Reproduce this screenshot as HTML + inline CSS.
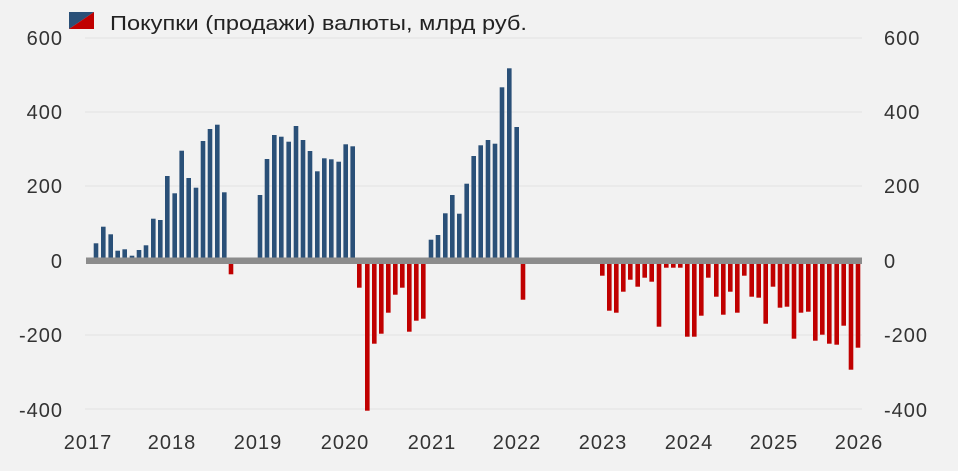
<!DOCTYPE html>
<html><head><meta charset="utf-8"><style>
html,body{margin:0;padding:0;background:#f2f2f2;}
svg{display:block;font-family:"Liberation Sans",sans-serif;}
</style></head><body>
<svg width="958" height="471" viewBox="0 0 958 471" xmlns="http://www.w3.org/2000/svg">
<rect width="958" height="471" fill="#f2f2f2"/>
<g stroke="#e2e2e2" stroke-width="1">
<line x1="85" x2="862" y1="38" y2="38"/>
<line x1="85" x2="862" y1="112" y2="112"/>
<line x1="85" x2="862" y1="186" y2="186"/>
<line x1="85" x2="862" y1="335" y2="335"/>
<line x1="85" x2="862" y1="409" y2="409"/>
</g>
<g font-size="20" fill="#333" letter-spacing="1">
<g text-anchor="end">
<text x="63" y="45">600</text><text x="63" y="119">400</text><text x="63" y="193">200</text>
<text x="63" y="268">0</text><text x="63" y="342">-200</text><text x="63" y="417">-400</text>
</g>
<g>
<text x="884" y="45">600</text><text x="884" y="119">400</text><text x="884" y="193">200</text>
<text x="884" y="268">0</text><text x="884" y="342">-200</text><text x="884" y="417">-400</text>
</g>
<g text-anchor="middle">
<text x="88" y="449">2017</text><text x="172" y="449">2018</text><text x="258" y="449">2019</text>
<text x="345" y="449">2020</text><text x="432" y="449">2021</text><text x="517" y="449">2022</text>
<text x="603" y="449">2023</text><text x="689" y="449">2024</text><text x="774" y="449">2025</text>
<text x="859" y="449">2026</text>
</g>
</g>
<text x="110" y="30" font-size="20" fill="#222" textLength="417" lengthAdjust="spacingAndGlyphs">Покупки (продажи) валюты, млрд руб.</text>
<polygon points="69,12 94,12 69,29" fill="#2a5078"/>
<polygon points="94,12 94,29 69,29" fill="#c00000"/>
<g fill="#2a5078">
<rect x="93.7" y="243.3" width="4.6" height="16.7"/>
<rect x="101" y="226.7" width="4.6" height="33.3"/>
<rect x="108.4" y="234.3" width="4.6" height="25.7"/>
<rect x="115.4" y="250.7" width="4.6" height="9.3"/>
<rect x="122.4" y="249.3" width="4.6" height="10.7"/>
<rect x="129.7" y="255.7" width="4.6" height="4.3"/>
<rect x="136.7" y="250" width="4.6" height="10"/>
<rect x="143.7" y="245.3" width="4.6" height="14.7"/>
<rect x="151" y="218.7" width="4.6" height="41.3"/>
<rect x="158" y="220" width="4.6" height="40"/>
<rect x="165" y="176" width="4.6" height="84"/>
<rect x="172.4" y="193.3" width="4.6" height="66.7"/>
<rect x="179.4" y="150.7" width="4.6" height="109.3"/>
<rect x="186.4" y="178" width="4.6" height="82"/>
<rect x="193.7" y="187.7" width="4.6" height="72.3"/>
<rect x="200.7" y="141" width="4.6" height="119"/>
<rect x="207.7" y="129" width="4.6" height="131"/>
<rect x="215" y="124.7" width="4.6" height="135.3"/>
<rect x="222" y="192.3" width="4.6" height="67.7"/>
<rect x="257.7" y="195" width="4.6" height="65"/>
<rect x="264.7" y="159" width="4.6" height="101"/>
<rect x="272" y="135" width="4.6" height="125"/>
<rect x="279" y="136.7" width="4.6" height="123.3"/>
<rect x="286.4" y="141.7" width="4.6" height="118.3"/>
<rect x="293.7" y="126" width="4.6" height="134"/>
<rect x="300.7" y="140" width="4.6" height="120"/>
<rect x="307.7" y="151" width="4.6" height="109"/>
<rect x="315" y="171.3" width="4.6" height="88.7"/>
<rect x="322" y="158.3" width="4.6" height="101.7"/>
<rect x="329" y="159.3" width="4.6" height="100.7"/>
<rect x="336.4" y="161.7" width="4.6" height="98.3"/>
<rect x="343.4" y="144.3" width="4.6" height="115.7"/>
<rect x="350.4" y="146.3" width="4.6" height="113.7"/>
<rect x="428.7" y="239.7" width="4.6" height="20.3"/>
<rect x="435.7" y="235" width="4.6" height="25"/>
<rect x="443" y="213.3" width="4.6" height="46.7"/>
<rect x="450" y="195" width="4.6" height="65"/>
<rect x="457" y="213.7" width="4.6" height="46.3"/>
<rect x="464.4" y="183.7" width="4.6" height="76.3"/>
<rect x="471.4" y="156" width="4.6" height="104"/>
<rect x="478.4" y="145.3" width="4.6" height="114.7"/>
<rect x="485.7" y="140" width="4.6" height="120"/>
<rect x="492.7" y="143.7" width="4.6" height="116.3"/>
<rect x="499.7" y="87.3" width="4.6" height="172.7"/>
<rect x="507" y="68.3" width="4.6" height="191.7"/>
<rect x="514.4" y="127" width="4.6" height="133"/>
</g>
<g fill="#c00000">
<rect x="228.7" y="262" width="4.6" height="12.3"/>
<rect x="357" y="262" width="4.6" height="25.7"/>
<rect x="365" y="262" width="4.6" height="148.7"/>
<rect x="372" y="262" width="4.6" height="81.7"/>
<rect x="379" y="262" width="4.6" height="71.7"/>
<rect x="386" y="262" width="4.6" height="50.7"/>
<rect x="393" y="262" width="4.6" height="32.7"/>
<rect x="400" y="262" width="4.6" height="25.7"/>
<rect x="407" y="262" width="4.6" height="69.7"/>
<rect x="414" y="262" width="4.6" height="58.7"/>
<rect x="421" y="262" width="4.6" height="56.7"/>
<rect x="520.7" y="262" width="4.6" height="37.7"/>
<rect x="600" y="262" width="4.6" height="13.7"/>
<rect x="607" y="262" width="4.6" height="48.7"/>
<rect x="614" y="262" width="4.6" height="50.7"/>
<rect x="621" y="262" width="4.6" height="29.7"/>
<rect x="628" y="262" width="4.6" height="17.7"/>
<rect x="635.4" y="262" width="4.6" height="24.7"/>
<rect x="642.4" y="262" width="4.6" height="15.7"/>
<rect x="649.4" y="262" width="4.6" height="19.7"/>
<rect x="656.7" y="262" width="4.6" height="64.7"/>
<rect x="664" y="262" width="4.6" height="5.7"/>
<rect x="671" y="262" width="4.6" height="5.7"/>
<rect x="678" y="262" width="4.6" height="5.7"/>
<rect x="685" y="262" width="4.6" height="74.7"/>
<rect x="692" y="262" width="4.6" height="74.7"/>
<rect x="699" y="262" width="4.6" height="53.7"/>
<rect x="706" y="262" width="4.6" height="15.7"/>
<rect x="714" y="262" width="4.6" height="34.7"/>
<rect x="721" y="262" width="4.6" height="52.7"/>
<rect x="728" y="262" width="4.6" height="29.7"/>
<rect x="735" y="262" width="4.6" height="50.7"/>
<rect x="742" y="262" width="4.6" height="13.7"/>
<rect x="749.4" y="262" width="4.6" height="34.7"/>
<rect x="756.4" y="262" width="4.6" height="35.7"/>
<rect x="763.4" y="262" width="4.6" height="61.7"/>
<rect x="770.7" y="262" width="4.6" height="24.7"/>
<rect x="777.7" y="262" width="4.6" height="45.7"/>
<rect x="784.7" y="262" width="4.6" height="44.7"/>
<rect x="791.7" y="262" width="4.6" height="76.7"/>
<rect x="798.7" y="262" width="4.6" height="50.7"/>
<rect x="806" y="262" width="4.6" height="49.7"/>
<rect x="813" y="262" width="4.6" height="78.7"/>
<rect x="820" y="262" width="4.6" height="72.7"/>
<rect x="827" y="262" width="4.6" height="81.7"/>
<rect x="834.4" y="262" width="4.6" height="82.7"/>
<rect x="841.4" y="262" width="4.6" height="63.7"/>
<rect x="848.7" y="262" width="4.6" height="107.7"/>
<rect x="855.7" y="262" width="4.6" height="85.7"/>
</g>
<rect x="86" y="257.5" width="776" height="6.5" fill="#8c8c8c"/>
</svg>
</body></html>
